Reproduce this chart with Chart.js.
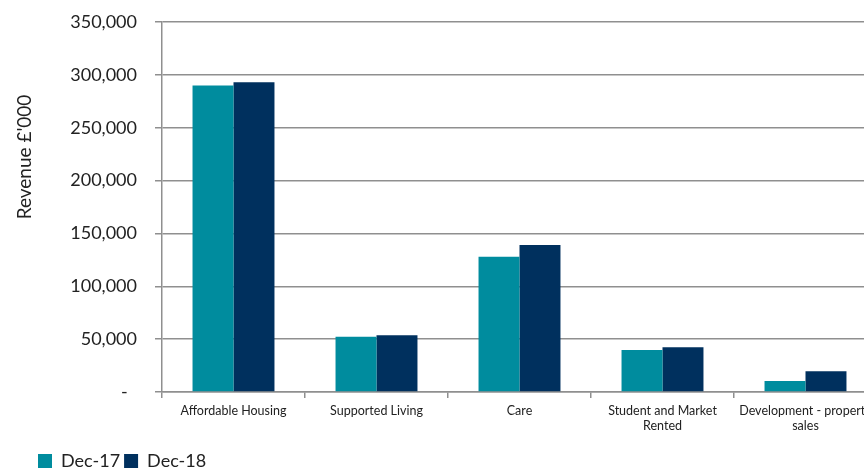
<!DOCTYPE html>
<html lang="en">
<head>
  <meta charset="UTF-8" />
  <title>Revenue by segment</title>
  <script src="https://cdn.jsdelivr.net/npm/chart.js"></script>
  <style>
    html, body { margin: 0; padding: 0; overflow: hidden; background: #fff; }
    #wrap { width: 880px; height: 468px; }
  </style>
</head>
<body>
  <div id="wrap"><canvas id="grafico"></canvas></div>

  <script>
    const categories = [
      'Affordable Housing',
      'Supported Living',
      'Care',
      ['Student and Market', 'Rented'],
      ['Development - property', 'sales']
    ];
    const dec17 = [290000, 52300, 128000, 39700, 10400];
    const dec18 = [293000, 53600, 139000, 42300, 19600];
    const yTicks = [0, 50000, 100000, 150000, 200000, 250000, 300000, 350000];

    const fontName = 'Lato, "Open Sans", sans-serif';
    const gridGrey = '#8f8f8f';

    // rotated axis title, sits a bit above the middle of the axis
    const yTitle = {
      id: 'yTitle',
      afterDraw(chart) {
        const c = chart.ctx;
        c.save();
        c.translate(25, 157);
        c.rotate(-Math.PI / 2);
        c.font = '19px ' + fontName;
        c.fillStyle = '#222';
        c.textAlign = 'center';
        c.textBaseline = 'middle';
        c.fillText("Revenue £'000", 0, 0);
        c.restore();
      }
    };

    const ctx = document.getElementById('grafico').getContext('2d');
    new Chart(ctx, {
      type: 'bar',
      data: {
        labels: categories,
        datasets: [
          { label: 'Dec-17', data: dec17, backgroundColor: '#008c9e' },
          { label: 'Dec-18', data: dec18, backgroundColor: '#00305e' }
        ]
      },
      options: {
        responsive: true,
        maintainAspectRatio: false,
        animation: false,
        categoryPercentage: 0.573,
        barPercentage: 1,
        layout: { padding: { left: 34, top: 22, right: 3, bottom: -12 } },
        plugins: {
          tooltip: { enabled: false },
          legend: {
            position: 'bottom',
            align: 'start',
            labels: {
              boxWidth: 14,
              boxHeight: 14,
              padding: 4,
              color: '#222',
              font: { family: fontName, size: 18 }
            }
          }
        },
        scales: {
          x: {
            afterFit(scale) { scale.height += 10; },
            grid: {
              offset: true,
              drawOnChartArea: false,
              drawTicks: true,
              tickLength: 6,
              color: gridGrey,
              lineWidth: 1.5
            },
            border: { color: gridGrey, width: 1.5 },
            ticks: {
              color: '#222',
              padding: 5,
              maxRotation: 0,
              autoSkip: false,
              font: { family: fontName, size: 12.5 }
            }
          },
          y: {
            min: 0,
            max: 350000,
            afterFit(scale) {
              scale.width = 128;
              scale.paddingTop = 0;
              scale.paddingBottom = 0;
            },
            afterBuildTicks(scale) { scale.ticks = yTicks.map(v => ({ value: v })); },
            grid: {
              color: gridGrey,
              lineWidth: 1.5,
              tickLength: 7
            },
            border: { color: gridGrey, width: 1.5 },
            ticks: {
              color: '#222',
              padding: 18,
              font: { family: fontName, size: 18 },
              callback: v => v === 0 ? '-  ' : v.toLocaleString('en-GB')
            }
          }
        }
      },
      plugins: [yTitle]
    });
  </script>
</body>
</html>
